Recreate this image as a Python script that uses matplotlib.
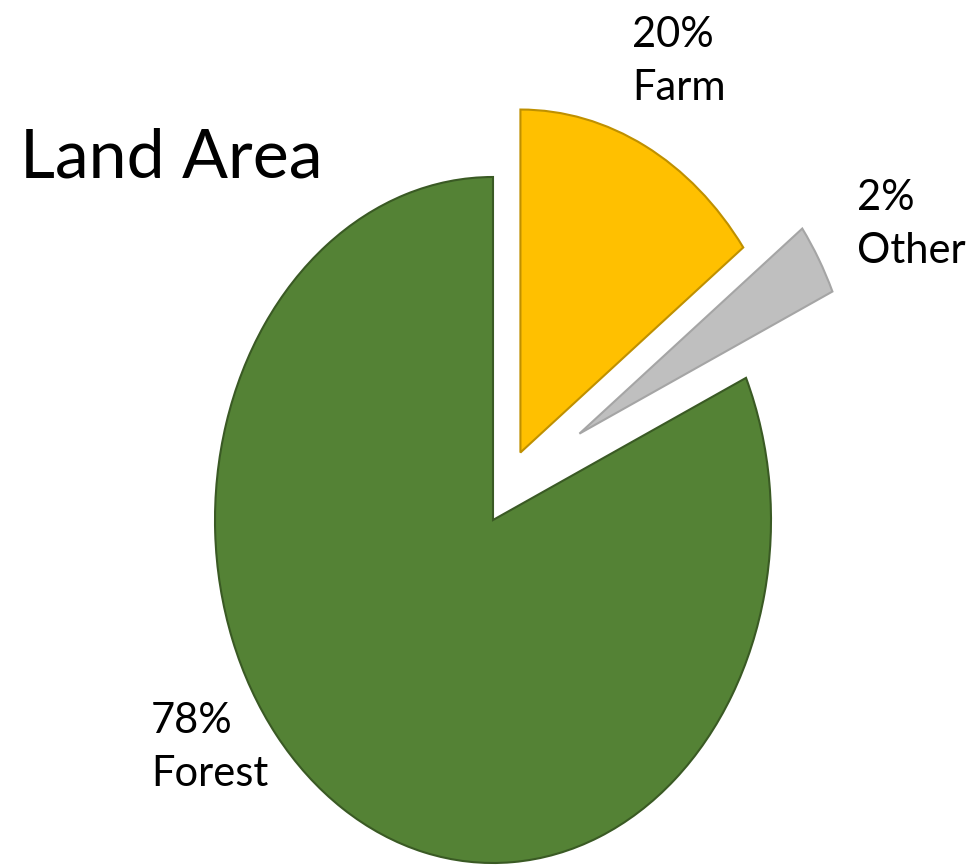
import numpy as np
import matplotlib.pyplot as plt

plt.rcParams['font.family'] = ['Lato', 'DejaVu Sans']

# wedge order: clockwise from 12 o'clock
categories = ["Farm", "Other", "Forest"]
pct_labels = ["20%", "2%", "78%"]
# wedge shares as drawn in the picture (the printed labels differ slightly)
wedge_sizes = [14.8, 3.4, 81.8]
colors = ["#FFC000", "#BFBFBF", "#548235"]
edge_colors = ["#BF9000", "#A5A5A5", "#3A5A24"]
explode = [0.22, 0.40, 0.0]
# the "Other" slice is pulled out a little steeper than its mid angle
other_pull_angle = 39

W, H = 980, 866
cx, cy = 493, 520      # pie centre in pixels (from top)
rx, ry = 278, 343      # horizontal / vertical radius in pixels

fig = plt.figure(figsize=(W / 100, H / 100), dpi=100)
ax = fig.add_axes([0, 0, 1, 1])

wedges, _ = ax.pie(wedge_sizes, startangle=90, counterclock=False,
                   explode=explode, colors=colors,
                   wedgeprops=dict(linewidth=1.5))
for w, ec in zip(wedges, edge_colors):
    w.set_edgecolor(ec)

a = np.deg2rad(other_pull_angle)
wedges[1].set_center((explode[1] * np.cos(a), explode[1] * np.sin(a)))

# stretch the pie into an ellipse
ax.set_aspect('auto')
ax.set_xlim(-cx / rx, (W - cx) / rx)
ax.set_ylim((cy - H) / ry, cy / ry)
ax.axis('off')


def px(x, y):
    return x / W, 1 - y / H


fig.text(*px(20, 178), "Land Area", fontsize=49, va='baseline', ha='left')

# label positions (left x, baseline of first line) in pixels
label_pos = [(632, 47), (857, 210), (151, 733)]
for (x, y), pct, name in zip(label_pos, pct_labels, categories):
    fig.text(*px(x, y), pct, fontsize=30, va='baseline', ha='left')
    fig.text(*px(x, y + 53), name, fontsize=30, va='baseline', ha='left')

fig.savefig("out.png", dpi=100, facecolor="white")
